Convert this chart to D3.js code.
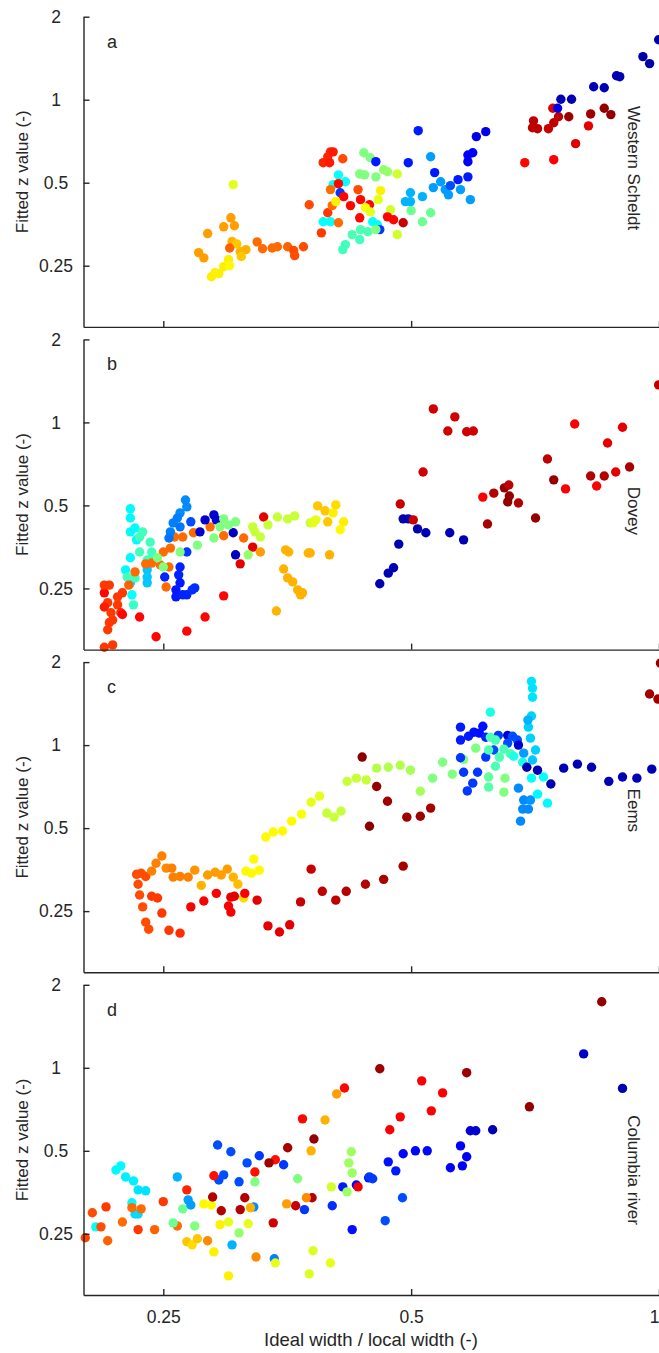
<!DOCTYPE html>
<html>
<head>
<meta charset="utf-8">
<script src="https://cdn.jsdelivr.net/npm/d3@7"></script>
<style>
    body { margin: 0; background: #fff; }
    svg { display: block; }
    text { font-family: Arial, "Liberation Sans", sans-serif; fill: #262626; }
</style>
</head>
<body>
<div id="chart"></div>
<script>
// Fitted z value vs ideal/local width, four estuaries, coloured with jet

const xTicks = [0.25, 0.5, 1];
const yTicks = [0.25, 0.5, 1, 2];
const panelLetters = ["a", "b", "c", "d"];
const estuaryNames = ["Western Scheldt", "Dovey", "Eems", "Columbia river"];
// where the estuary name sits, in data units
const nameX = 0.918;
const nameY = [0.565, 0.478, 0.58, 0.426];

// points: [ideal/local width, fitted z, colour value 0-1 on jet]
const scheldt = [
    [0.304,0.492,0.6],[0.283,0.327,0.72],[0.276,0.279,0.72],[0.280,0.267,0.72],[0.296,0.346,0.72],
    [0.302,0.373,0.72],[0.305,0.349,0.72],[0.303,0.306,0.7],[0.307,0.300,0.68],[0.301,0.290,0.78],
    [0.310,0.281,0.7],[0.315,0.286,0.7],[0.311,0.270,0.68],[0.286,0.228,0.64],[0.289,0.236,0.64],
    [0.292,0.234,0.64],[0.296,0.248,0.64],[0.300,0.263,0.64],[0.301,0.250,0.63],[0.325,0.305,0.77],
    [0.330,0.288,0.77],[0.339,0.290,0.77],[0.344,0.293,0.77],[0.354,0.293,0.78],[0.360,0.284,0.8],
    [0.361,0.272,0.8],[0.370,0.293,0.8],[0.376,0.416,0.8],[0.389,0.329,0.82],[0.391,0.591,0.84],
    [0.396,0.621,0.84],[0.399,0.647,0.84],[0.402,0.647,0.85],[0.398,0.591,0.85],[0.413,0.611,0.8],
    [0.408,0.534,0.38],[0.416,0.504,0.38],[0.402,0.492,0.38],[0.408,0.496,0.87],[0.399,0.472,0.77],
    [0.431,0.472,0.8],[0.410,0.460,0.18],[0.414,0.445,0.87],[0.422,0.413,0.87],[0.434,0.434,0.87],
    [0.445,0.416,0.87],[0.396,0.389,0.82],[0.401,0.413,0.77],[0.405,0.427,0.64],[0.391,0.361,0.38],
    [0.399,0.361,0.38],[0.408,0.358,0.77],[0.433,0.373,0.87],[0.459,0.468,0.64],[0.456,0.434,0.6],
    [0.440,0.406,0.62],[0.446,0.392,0.6],[0.472,0.399,0.58],[0.468,0.376,0.87],[0.476,0.367,0.87],
    [0.489,0.358,0.93],[0.449,0.361,0.38],[0.455,0.352,0.38],[0.458,0.338,0.18],[0.434,0.338,0.45],
    [0.424,0.324,0.45],[0.443,0.332,0.45],[0.453,0.338,0.5],[0.433,0.311,0.44],[0.416,0.298,0.44],
    [0.413,0.286,0.44],[0.481,0.324,0.58],[0.438,0.642,0.5],[0.446,0.616,0.5],[0.453,0.596,0.15],
    [0.433,0.538,0.5],[0.439,0.534,0.5],[0.453,0.525,0.5],[0.463,0.557,0.52],[0.468,0.548,0.52],
    [0.481,0.538,0.58],[0.496,0.591,0.15],[0.510,0.772,0.15],[0.528,0.621,0.28],[0.534,0.544,0.15],
    [0.499,0.460,0.3],[0.492,0.427,0.3],[0.499,0.427,0.3],[0.516,0.445,0.3],[0.500,0.396,0.48],
    [0.528,0.389,0.48],[0.516,0.361,0.48],[0.532,0.480,0.28],[0.543,0.504,0.28],[0.550,0.472,0.28],
    [0.555,0.452,0.28],[0.558,0.488,0.2],[0.570,0.513,0.15],[0.574,0.472,0.28],[0.586,0.525,0.15],
    [0.590,0.434,0.28],[0.586,0.630,0.12],[0.594,0.642,0.12],[0.586,0.596,0.12],[0.600,0.735,0.1],
    [0.616,0.766,0.1],[0.687,0.591,0.87],[0.745,0.606,0.88],[0.792,0.693,0.9],[0.821,0.804,0.9],
    [0.704,0.838,0.94],[0.702,0.791,0.94],[0.712,0.785,0.94],[0.734,0.785,0.93],[0.745,0.825,0.94],
    [0.755,0.867,0.94],[0.743,0.931,0.9],[0.777,0.867,0.97],[0.826,0.888,0.97],[0.858,0.931,0.98],
    [0.874,0.883,0.98],[0.760,1.004,0.05],[0.753,0.931,0.1],[0.783,1.004,0.05],[0.833,1.114,0.05],
    [0.858,1.105,0.05],[0.888,1.222,0.05],[0.896,1.212,0.05],[0.956,1.433,0.04],[0.974,1.352,0.04],
    [0.999,1.650,0.04]
];

const dovey = [
    [0.228,0.486,0.37],[0.228,0.450,0.37],[0.231,0.414,0.37],[0.228,0.401,0.37],[0.232,0.375,0.37],
    [0.228,0.323,0.37],[0.225,0.292,0.37],[0.228,0.262,0.33],[0.229,0.237,0.38],[0.230,0.218,0.43],
    [0.236,0.401,0.44],[0.234,0.384,0.44],[0.241,0.368,0.44],[0.234,0.339,0.44],[0.242,0.339,0.44],
    [0.243,0.325,0.44],[0.239,0.317,0.44],[0.231,0.273,0.44],[0.226,0.275,0.44],[0.239,0.292,0.32],
    [0.239,0.275,0.32],[0.239,0.262,0.32],[0.212,0.241,0.87],[0.212,0.257,0.82],[0.215,0.257,0.82],
    [0.227,0.257,0.78],[0.223,0.241,0.82],[0.220,0.233,0.82],[0.214,0.222,0.82],[0.212,0.214,0.85],
    [0.220,0.218,0.82],[0.216,0.204,0.82],[0.222,0.204,0.84],[0.217,0.192,0.82],[0.215,0.188,0.82],
    [0.214,0.177,0.82],[0.212,0.153,0.82],[0.217,0.156,0.82],[0.223,0.201,0.87],[0.234,0.197,0.87],
    [0.245,0.167,0.87],[0.267,0.175,0.87],[0.281,0.197,0.87],[0.296,0.235,0.87],[0.331,0.454,0.9],
    [0.321,0.353,0.9],[0.310,0.307,0.9],[0.231,0.287,0.77],[0.238,0.307,0.77],[0.242,0.309,0.77],
    [0.248,0.304,0.77],[0.254,0.299,0.77],[0.250,0.339,0.77],[0.255,0.350,0.77],[0.258,0.384,0.77],
    [0.264,0.384,0.77],[0.272,0.398,0.77],[0.285,0.418,0.77],[0.296,0.388,0.77],[0.313,0.381,0.77],
    [0.328,0.339,0.72],[0.252,0.253,0.77],
    [0.266,0.523,0.26],[0.267,0.494,0.26],[0.262,0.470,0.26],[0.260,0.450,0.25],[0.257,0.432,0.25],
    [0.270,0.436,0.2],[0.255,0.401,0.25],[0.254,0.381,0.24],[0.262,0.418,0.24],[0.267,0.339,0.18],
    [0.262,0.299,0.16],[0.261,0.280,0.16],[0.251,0.275,0.16],[0.262,0.262,0.15],[0.259,0.247,0.15],
    [0.259,0.233,0.15],[0.264,0.237,0.16],[0.267,0.237,0.16],[0.271,0.247,0.17],[0.273,0.251,0.17],
    [0.281,0.443,0.08],[0.288,0.462,0.08],[0.290,0.443,0.08],[0.277,0.401,0.08],[0.304,0.398,0.06],
    [0.306,0.331,0.06],
    [0.296,0.447,0.5],[0.293,0.418,0.5],[0.300,0.425,0.5],[0.306,0.436,0.5],[0.288,0.381,0.5],
    [0.275,0.359,0.5],[0.262,0.339,0.5],[0.246,0.323,0.5],[0.250,0.299,0.5],
    [0.321,0.418,0.57],[0.323,0.401,0.57],[0.328,0.384,0.57],[0.335,0.425,0.57],[0.344,0.454,0.57],
    [0.354,0.447,0.57],[0.361,0.458,0.57],[0.317,0.331,0.52],[0.377,0.432,0.57],
    [0.352,0.345,0.7],[0.355,0.339,0.7],[0.375,0.336,0.7],[0.350,0.294,0.7],[0.354,0.273,0.7],
    [0.359,0.264,0.7],[0.364,0.247,0.7],[0.367,0.237,0.7],[0.343,0.207,0.7],
    [0.385,0.498,0.68],[0.393,0.478,0.68],[0.405,0.502,0.66],[0.402,0.470,0.64],[0.383,0.443,0.6],
    [0.380,0.432,0.6],[0.396,0.436,0.68],[0.414,0.436,0.64],[0.410,0.408,0.63],[0.377,0.336,0.7],
    [0.398,0.331,0.7],[0.369,0.241,0.7],
    [0.489,0.447,0.05],[0.496,0.447,0.05],[0.509,0.411,0.05],[0.521,0.398,0.05],[0.557,0.398,0.05],
    [0.579,0.375,0.05],[0.483,0.362,0.05],[0.476,0.297,0.05],[0.469,0.284,0.05],[0.458,0.260,0.05],
    [0.532,1.119,0.92],[0.565,1.047,0.92],[0.554,0.931,0.92],[0.584,0.925,0.92],[0.595,0.931,0.92],
    [0.517,0.661,0.92],[0.485,0.506,0.93],[0.503,0.443,0.93],[0.611,0.536,0.88],[0.630,0.554,0.95],
    [0.649,0.579,0.98],[0.657,0.593,0.94],[0.658,0.541,0.98],[0.655,0.515,0.98],[0.675,0.510,0.95],
    [0.619,0.428,0.96],[0.708,0.450,0.98],[0.732,0.737,0.94],[0.745,0.619,0.98],[0.770,0.574,0.88],
    [0.790,0.987,0.88],[0.866,0.842,0.9],[0.903,0.960,0.9],[0.826,0.639,0.95],[0.858,0.639,0.95],
    [0.840,0.588,0.88],[0.886,0.661,0.9],[0.921,0.689,0.96],[0.999,1.368,0.94]
];

const eems = [
    [0.232,0.340,0.8],[0.235,0.343,0.8],[0.238,0.334,0.8],[0.233,0.313,0.8],[0.234,0.286,0.8],
    [0.236,0.259,0.8],[0.238,0.228,0.8],[0.240,0.215,0.8],[0.242,0.283,0.82],[0.246,0.279,0.82],
    [0.249,0.246,0.82],[0.254,0.213,0.82],[0.262,0.208,0.83],[0.242,0.349,0.75],[0.245,0.373,0.75],
    [0.249,0.396,0.75],[0.252,0.358,0.74],[0.256,0.358,0.75],[0.257,0.332,0.75],[0.262,0.334,0.75],
    [0.268,0.332,0.75],[0.273,0.352,0.73],[0.283,0.338,0.72],[0.289,0.346,0.72],[0.294,0.338,0.72],
    [0.299,0.355,0.72],[0.304,0.332,0.7],[0.308,0.313,0.69],[0.278,0.310,0.7],[0.313,0.279,0.66],
    [0.315,0.349,0.63],[0.320,0.343,0.63],[0.327,0.352,0.63],[0.322,0.386,0.63],[0.333,0.464,0.63],
    [0.340,0.484,0.63],[0.349,0.488,0.63],[0.358,0.530,0.63],[0.368,0.562,0.62],[0.378,0.621,0.6],
    [0.387,0.653,0.6],[0.395,0.567,0.57],[0.403,0.548,0.57],[0.411,0.576,0.57],[0.418,0.739,0.57],
    [0.429,0.759,0.57],[0.441,0.747,0.57],[0.454,0.825,0.55],[0.469,0.831,0.55],[0.485,0.845,0.55],
    [0.499,0.811,0.54],[0.513,0.680,0.54],
    [0.270,0.259,0.88],[0.280,0.272,0.88],[0.290,0.290,0.88],[0.302,0.281,0.9],[0.305,0.283,0.9],
    [0.300,0.261,0.88],[0.302,0.248,0.88],[0.314,0.290,0.88],[0.325,0.274,0.9],[0.335,0.221,0.9],
    [0.346,0.210,0.9],[0.356,0.223,0.9],[0.367,0.270,0.93],[0.378,0.355,0.93],[0.390,0.295,0.94],
    [0.405,0.274,0.94],[0.417,0.295,0.95],[0.440,0.313,0.95],[0.463,0.326,0.96],[0.489,0.364,0.96],
    [0.436,0.905,0.99],[0.454,0.708,0.98],[0.468,0.626,0.97],[0.445,0.508,0.99],[0.494,0.548,0.97],
    [0.513,0.552,0.97],[0.528,0.591,0.96],
    [0.531,0.759,0.5],[0.546,0.867,0.5],[0.561,0.785,0.5],[0.579,0.888,0.5],[0.599,0.975,0.5],
    [0.621,0.766,0.47],[0.621,0.704,0.46],[0.650,0.759,0.5],[0.648,0.675,0.5],
    [0.574,1.162,0.15],[0.574,1.043,0.15],[0.587,1.077,0.15],[0.596,1.114,0.14],[0.611,1.170,0.14],
    [0.605,1.105,0.14],[0.616,1.068,0.16],[0.638,1.085,0.18],[0.655,1.085,0.08],[0.664,1.077,0.2],
    [0.673,1.043,0.2],[0.675,1.000,0.08],[0.655,1.017,0.2],[0.574,0.900,0.18],[0.616,0.905,0.18],
    [0.579,0.797,0.18],[0.602,0.797,0.18],[0.594,0.728,0.18],[0.585,0.682,0.18],[0.630,0.960,0.2],
    [0.624,1.068,0.45],[0.633,1.043,0.45],[0.621,0.960,0.45],[0.633,0.838,0.45],[0.648,0.967,0.45],
    [0.640,0.905,0.45],[0.660,0.931,0.45],
    [0.624,1.317,0.4],[0.700,1.703,0.35],[0.702,1.610,0.35],[0.702,1.492,0.35],[0.700,1.275,0.33],
    [0.694,1.162,0.33],[0.698,1.060,0.33],[0.708,0.960,0.33],[0.702,0.883,0.32],[0.700,0.759,0.38],
    [0.724,0.766,0.38],[0.712,0.664,0.37],[0.732,0.616,0.37],[0.666,0.911,0.4],[0.683,0.867,0.4],
    [0.693,1.232,0.3],[0.675,0.698,0.26],[0.685,0.632,0.26],[0.698,0.632,0.27],[0.683,0.586,0.26],
    [0.694,0.586,0.26],[0.679,0.530,0.26],[0.685,0.935,0.28],
    [0.691,0.831,0.05],[0.712,0.811,0.05],[0.739,0.723,0.05],[0.766,0.825,0.05],[0.796,0.853,0.05],
    [0.828,0.831,0.05],[0.869,0.739,0.05],[0.903,0.766,0.05],[0.940,0.759,0.05],[0.980,0.818,0.05],
    [1.004,1.984,0.98],[0.974,1.532,0.97],[0.997,1.469,0.97]
];

const columbia = [
    [0.219,0.426,0.37],[0.222,0.441,0.37],[0.225,0.402,0.36],[0.230,0.389,0.36],[0.233,0.361,0.35],
    [0.238,0.358,0.35],[0.229,0.324,0.37],[0.231,0.295,0.34],[0.233,0.295,0.34],[0.207,0.265,0.38],
    [0.260,0.402,0.3],
    [0.201,0.242,0.81],[0.205,0.298,0.8],[0.213,0.313,0.82],[0.210,0.265,0.8],[0.214,0.236,0.78],
    [0.223,0.276,0.77],[0.229,0.311,0.77],[0.235,0.308,0.77],[0.233,0.259,0.82],[0.244,0.259,0.78],
    [0.250,0.327,0.82],[0.260,0.267,0.77],[0.267,0.361,0.84],
    [0.257,0.274,0.48],[0.264,0.308,0.48],[0.273,0.267,0.5],
    [0.268,0.332,0.28],[0.270,0.318,0.28],[0.303,0.228,0.3],[0.341,0.203,0.25],
    [0.267,0.234,0.68],[0.271,0.228,0.66],[0.275,0.240,0.68],[0.283,0.236,0.74],[0.288,0.215,0.64],
    [0.280,0.321,0.63],[0.286,0.318,0.63],[0.293,0.270,0.64],[0.300,0.276,0.6],[0.300,0.176,0.64],
    [0.317,0.272,0.6],[0.309,0.252,0.52],
    [0.291,0.525,0.2],[0.302,0.496,0.2],[0.296,0.409,0.2],[0.292,0.392,0.2],[0.316,0.452,0.2],
    [0.327,0.480,0.18],[0.309,0.386,0.2],[0.350,0.445,0.18],[0.322,0.313,0.26],[0.371,0.306,0.18],
    [0.401,0.316,0.17],[0.413,0.370,0.15],[0.424,0.259,0.14],[0.429,0.376,0.13],[0.444,0.399,0.13],
    [0.369,0.653,0.87],[0.288,0.406,0.86],[0.323,0.419,0.86],[0.342,0.464,0.86],[0.431,0.370,0.89],
    [0.340,0.274,0.92],
    [0.354,0.513,0.96],[0.381,0.552,0.98],[0.336,0.452,0.97],[0.287,0.340,0.95],[0.314,0.338,0.95],
    [0.294,0.303,0.95],[0.310,0.306,0.95],[0.362,0.316,0.93],[0.379,0.338,0.95],
    [0.393,0.647,0.7],[0.378,0.500,0.7],[0.319,0.311,0.7],[0.353,0.321,0.72],[0.373,0.338,0.74],
    [0.324,0.206,0.74],
    [0.423,0.496,0.53],[0.420,0.452,0.53],[0.424,0.416,0.53],[0.400,0.370,0.58],[0.418,0.355,0.53],
    [0.364,0.396,0.5],[0.323,0.386,0.5],[0.380,0.217,0.59],[0.399,0.196,0.6],[0.376,0.179,0.59],
    [0.342,0.196,0.6],
    [0.852,1.736,0.98],[0.810,1.123,0.07],[0.903,0.842,0.05],[0.696,0.722,0.98],[0.628,0.596,0.05],
    [0.599,0.591,0.08],[0.590,0.591,0.08],[0.458,0.992,0.97],[0.584,0.960,0.97],[0.415,0.845,0.87],
    [0.515,0.897,0.88],[0.546,0.811,0.88],[0.529,0.698,0.88],[0.485,0.664,0.88],[0.471,0.596,0.88],
    [0.406,0.804,0.72],
    [0.469,0.456,0.14],[0.489,0.488,0.13],[0.506,0.500,0.13],[0.523,0.500,0.13],[0.574,0.521,0.12],
    [0.584,0.476,0.12],[0.558,0.434,0.12],[0.577,0.441,0.12],[0.479,0.423,0.15],[0.445,0.402,0.18],
    [0.449,0.396,0.18],[0.488,0.338,0.2],[0.465,0.279,0.2]
];

const panelData = [scheldt, dovey, eems, columbia];

// layout
const width = 659;
const height = 1353;
const plotLeft = 83.5;
const plotRight = 659;
const firstTop = 16.7;
const panelStep = 322.7;
const panelHeight = 310.2;
const axisColor = "#262626";
const pointRadius = 4.7;

function jet(t) {
    const clamp = v => Math.max(0, Math.min(1, v));
    const r = clamp(1.5 - Math.abs(4 * t - 3));
    const g = clamp(1.5 - Math.abs(4 * t - 2));
    const b = clamp(1.5 - Math.abs(4 * t - 1));
    return d3.rgb(r * 255, g * 255, b * 255).toString();
}

const svg = d3.select("#chart").append("svg")
    .attr("width", width)
    .attr("height", height)
    .attr("viewBox", `0 0 ${width} ${height}`);

const x = d3.scaleLog().domain([0.2, 1]).range([plotLeft, plotRight]);

panelData.forEach((points, i) => {
    const top = firstTop + i * panelStep;
    const bottom = top + panelHeight;
    const y = d3.scaleLog().domain([0.15, 2]).range([bottom, top]);
    const panel = svg.append("g").attr("class", "panel");

    panel.append("g")
        .selectAll("circle")
        .data(points)
        .join("circle")
        .attr("cx", d => x(d[0]))
        .attr("cy", d => y(d[1]))
        .attr("r", pointRadius)
        .attr("fill", d => jet(d[2]));

    const xAxis = panel.append("g")
        .attr("transform", `translate(0,${bottom})`)
        .call(d3.axisBottom(x)
            .tickValues(xTicks)
            .tickSize(-6)
            .tickSizeOuter(0)
            .tickPadding(16)
            .tickFormat(i === 3 ? d => String(d) : ""));

    const yAxis = panel.append("g")
        .attr("transform", `translate(${plotLeft},0)`)
        .call(d3.axisLeft(y)
            .tickValues(yTicks)
            .tickSize(-6)
            .tickSizeOuter(0)
            .tickFormat(d => String(d)));

    [xAxis, yAxis].forEach(ax => {
        ax.attr("font-family", null).attr("font-size", null);
        ax.select(".domain").attr("stroke", axisColor).attr("stroke-width", 1.4);
        ax.selectAll(".tick line").attr("stroke", axisColor).attr("stroke-width", 1.4);
        ax.selectAll(".tick text").style("font-size", "17.5px").attr("fill", axisColor);
    });

    // the last x label sits on the right edge of the page, keep it inside
    xAxis.selectAll(".tick text")
        .filter(d => d === xTicks[xTicks.length - 1])
        .attr("text-anchor", "end");

    yAxis.selectAll(".tick text")
        .attr("x", -27.5)
        .attr("text-anchor", "middle");

    panel.append("text")
        .attr("x", 107)
        .attr("y", top + 31)
        .style("font-size", "18px")
        .text(panelLetters[i]);

    panel.append("text")
        .attr("transform", `translate(${x(nameX)},${y(nameY[i])}) rotate(90)`)
        .attr("text-anchor", "middle")
        .style("font-size", "17px")
        .text(estuaryNames[i]);

    panel.append("text")
        .attr("transform", `translate(28,${(top + bottom) / 2}) rotate(-90)`)
        .attr("text-anchor", "middle")
        .style("font-size", "17px")
        .text("Fitted z value (-)");
});

svg.append("text")
    .attr("x", 371)
    .attr("y", 1346)
    .attr("text-anchor", "middle")
    .style("font-size", "18.5px")
    .text("Ideal width / local width (-)");
</script>
</body>
</html>
